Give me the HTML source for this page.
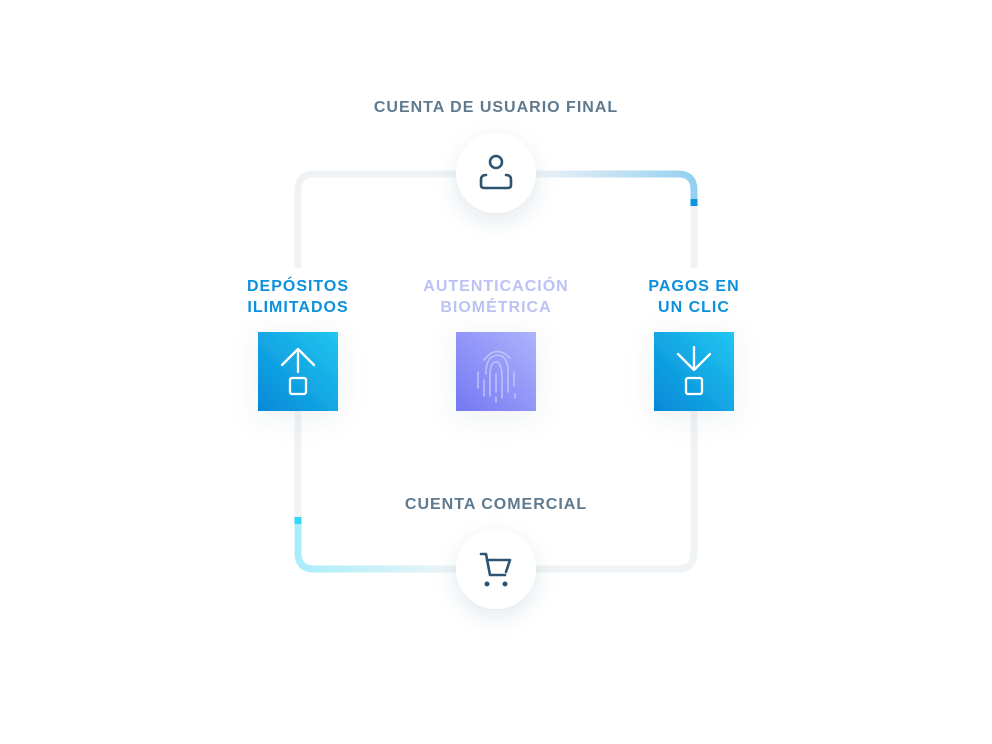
<!DOCTYPE html>
<html><head><meta charset="utf-8"><style>
body{margin:0;background:#fff;width:992px;height:744px;overflow:hidden;font-family:"Liberation Sans",sans-serif}
.t{position:absolute;font-weight:bold;font-size:16px;letter-spacing:1px;text-align:center;line-height:21px}
</style></head><body>
<svg width="992" height="744" style="position:absolute;left:0;top:0">
<defs>
<linearGradient id="gt" x1="536" y1="0" x2="694" y2="0" gradientUnits="userSpaceOnUse"><stop offset="0" stop-color="#eef3f6"/><stop offset="1" stop-color="#95d0f2"/></linearGradient>
<linearGradient id="gb" x1="298" y1="0" x2="456" y2="0" gradientUnits="userSpaceOnUse"><stop offset="0" stop-color="#a8eefa"/><stop offset="1" stop-color="#eef4f6"/></linearGradient>
<linearGradient id="sq" x1="1" y1="0" x2="0" y2="1"><stop offset="0" stop-color="#22c6f0"/><stop offset="1" stop-color="#0588d8"/></linearGradient>
<linearGradient id="pu" x1="1" y1="0" x2="0" y2="1"><stop offset="0" stop-color="#adb3fb"/><stop offset="1" stop-color="#7478f4"/></linearGradient>
<filter id="sh" x="-50%" y="-50%" width="200%" height="200%"><feDropShadow dx="0" dy="8" stdDeviation="10" flood-color="#30506a" flood-opacity="0.13"/></filter>
<filter id="sh2" x="-50%" y="-50%" width="200%" height="200%"><feDropShadow dx="0" dy="6" stdDeviation="14" flood-color="#30506a" flood-opacity="0.08"/></filter>
</defs>
<g fill="none" stroke-width="7">
<path d="M298 268 V190 Q298 174 314 174 H456" stroke="#eff3f5"/>
<path d="M536 174 H678 Q694 174 694 190 V200" stroke="url(#gt)"/>
<path d="M694 206 V268" stroke="#eff3f5"/>
<path d="M694 411 V553 Q694 569 678 569 H536" stroke="#eff3f5"/>
<path d="M298 411 V517" stroke="#eff3f5"/>
<path d="M298 523 V553 Q298 569 314 569 H456" stroke="url(#gb)"/>
</g>
<rect x="690.5" y="199" width="7" height="7" fill="#0b93e0"/>
<rect x="294.5" y="517" width="7" height="7" fill="#2ed8f6"/>
<circle cx="496" cy="173" r="40" fill="#fff" filter="url(#sh)"/>
<circle cx="496" cy="569" r="40" fill="#fff" filter="url(#sh)"/>
<g fill="none" stroke="#2e5470" stroke-width="2.6" stroke-linecap="round" stroke-linejoin="round">
<circle cx="496" cy="162" r="6"/>
<path d="M486 175 Q481 175 481 180 V185 Q481 188 484 188 H508 Q511 188 511 185 V180 Q511 175 506 175"/>
<path d="M481 554 H486 L490 575 H505 M487 560 H510 L506 572"/>
</g>
<circle cx="487" cy="584" r="2.5" fill="#2e5470"/><circle cx="505" cy="584" r="2.5" fill="#2e5470"/>
<rect x="258" y="332" width="80" height="79" fill="url(#sq)" filter="url(#sh2)"/>
<rect x="456" y="332" width="80" height="79" fill="url(#pu)" filter="url(#sh2)"/>
<rect x="654" y="332" width="80" height="79" fill="url(#sq)" filter="url(#sh2)"/>
<g fill="none" stroke="#fff" stroke-width="2.3" stroke-linecap="round" stroke-linejoin="round">
<path d="M298 372 V349 M282 365 L298 349 L314 365"/>
<rect x="290" y="378" width="16" height="16" rx="2"/>
<path d="M694 347 V370 M678 354 L694 370 L710 354"/>
<rect x="686" y="378" width="16" height="16" rx="2"/>
</g>
<g fill="none" stroke="#c9ccfb" stroke-width="1.6" stroke-linecap="round" opacity="0.8">
<path d="M484 360 Q496 344 510 358"/>
<path d="M478 372 V388 M514 372 V386 M515 394 V398"/>
<path d="M486 374 Q486 352 502 356 Q508 360 508 372 V392"/>
<path d="M490 396 V376 Q490 360 498 362 Q502 366 502 378 V398"/>
<path d="M496 374 V392 M496 397 V402"/>
<path d="M484 380 V396"/>
</g>
</svg>
<div class="t" style="left:296px;width:400px;top:97px;color:#5f7a8e">CUENTA DE USUARIO FINAL</div>
<div class="t" style="left:198px;width:200px;top:276px;color:#0c90dd">DEPÓSITOS<br>ILIMITADOS</div>
<div class="t" style="left:396px;width:200px;top:276px;color:#bcc1f6">AUTENTICACIÓN<br>BIOMÉTRICA</div>
<div class="t" style="left:594px;width:200px;top:276px;color:#0c90dd">PAGOS EN<br>UN CLIC</div>
<div class="t" style="left:296px;width:400px;top:494px;color:#5f7a8e">CUENTA COMERCIAL</div>
</body></html>
